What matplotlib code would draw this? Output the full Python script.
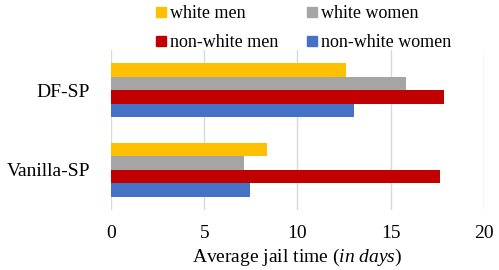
import numpy as np
import matplotlib
matplotlib.use("Agg")
import matplotlib.pyplot as plt
from matplotlib.lines import Line2D

plt.rcParams['font.family'] = ['Liberation Serif', 'DejaVu Serif']
plt.rcParams['mathtext.fontset'] = 'custom'
plt.rcParams['mathtext.rm'] = 'Liberation Serif'
plt.rcParams['mathtext.it'] = 'Liberation Serif:italic'

methods = ['DF-SP', 'Vanilla-SP']
groups = ['white men', 'white women', 'non-white men', 'non-white women']
white_men = [12.6, 8.35]
white_women = [15.8, 7.15]
nonwhite_men = [17.85, 17.65]
nonwhite_women = [13.05, 7.45]
series = [white_men, white_women, nonwhite_men, nonwhite_women]
colors = ['#FFC000', '#A5A5A5', '#C00000', '#4472C4']

fig = plt.figure(figsize=(4.99, 2.70), dpi=100)
ax = fig.add_axes([0.2224, 0.224, 0.7475, 0.589])

bh = 0.171
centers = np.arange(len(methods)) + 0.5
for i, (vals, c) in enumerate(zip(series, colors)):
    off = (i - 1.5) * bh
    ax.barh(centers + off, vals, height=bh, color=c, zorder=3)

ax.set_ylim(2, 0)
ax.set_xlim(0, 20)
ax.set_xticks([0, 5, 10, 15, 20])
ax.set_yticks(centers)
ax.set_yticklabels(methods)
ax.tick_params(axis='y', length=0, pad=15, labelsize=14)
ax.tick_params(axis='x', length=0, pad=11, labelsize=14)
ax.grid(axis='x', color='#d9d9d9', linewidth=1, zorder=0)
for s in ax.spines.values():
    s.set_visible(False)
ax.set_xlabel(r'Average jail time ($\it{in\ days}$)', fontsize=14, labelpad=3.5)

# legend filled row by row: white men / white women, then non-white
handles = [Line2D([], [], marker='s', linestyle='none', markersize=6.5,
                  color=c) for c in colors]
order = [0, 2, 1, 3]
fig.legend([handles[i] for i in order], [groups[i] for i in order],
           ncol=2, loc='upper left',
           bbox_to_anchor=(0.279, 1.04), frameon=False, fontsize=13,
           handlelength=0.6, handletextpad=0.2, columnspacing=1.55,
           labelspacing=0.65)

fig.savefig('out.png', dpi=100)
